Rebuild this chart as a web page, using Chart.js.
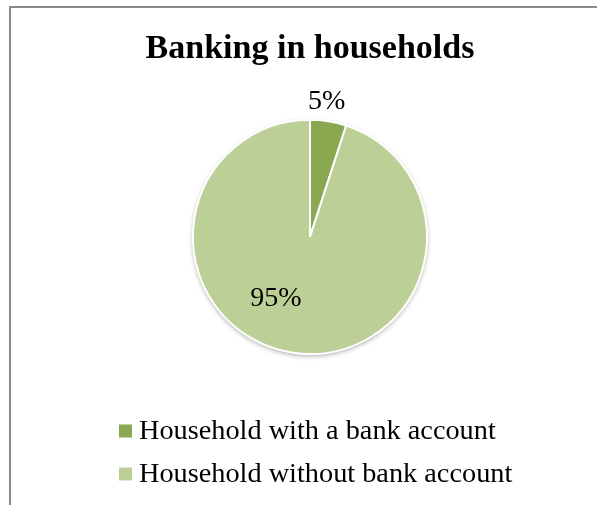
<!DOCTYPE html>
<html>
<head>
<meta charset="utf-8">
<script src="https://cdn.jsdelivr.net/npm/chart.js@4.4.0/dist/chart.umd.min.js"></script>
<style>
  html, body { margin: 0; padding: 0; background: #fff; overflow: hidden; }
  #wrap { position: relative; width: 597px; height: 505px; }
  #frame { position: absolute; left: 9px; top: 6px; width: 700px; height: 600px;
           border-left: 2px solid #8a8a8a; border-top: 2px solid #8a8a8a; }
  #pieChart { position: absolute; left: 0; top: 0; }
</style>
</head>
<body>
<div id="wrap">
  <div id="frame"></div>
  <canvas id="pieChart" width="597" height="505"></canvas>
</div>
<script>
const chartTitle = 'Banking in households';
const categories = ['Household with a bank account', 'Household without bank account'];
const shares = [5, 95];
const sliceColors = ['#8aa84f', '#bbcf97'];

const serif = "'Liberation Serif', 'Times New Roman', serif";

// label placement tweaks (angle shift in degrees, radius factor)
const labelPlace = [
  { shift: -2, rf: 1.16 },
  { shift: 20, rf: 0.6 }
];

const pieShadow = {
  id: 'pieShadow',
  beforeDatasetsDraw(chart) {
    const arc = chart.getDatasetMeta(0).data[0];
    if (!arc) return;
    const { x, y, outerRadius } = arc.getProps(['x', 'y', 'outerRadius'], true);
    const ctx = chart.ctx;
    ctx.save();
    ctx.beginPath();
    ctx.arc(x, y, outerRadius, 0, Math.PI * 2);
    ctx.fillStyle = '#fff';
    ctx.shadowColor = 'rgba(0,0,0,0.35)';
    ctx.shadowBlur = 5;
    ctx.shadowOffsetY = 2;
    ctx.fill();
    ctx.restore();
  }
};

const pctLabels = {
  id: 'pctLabels',
  afterDatasetsDraw(chart) {
    const ctx = chart.ctx;
    const total = shares.reduce((a, b) => a + b, 0);
    ctx.save();
    ctx.font = '28px ' + serif;
    ctx.fillStyle = '#000';
    ctx.textAlign = 'center';
    ctx.textBaseline = 'middle';
    chart.getDatasetMeta(0).data.forEach((arc, i) => {
      const p = arc.getProps(['x', 'y', 'startAngle', 'endAngle', 'outerRadius'], true);
      const a = (p.startAngle + p.endAngle) / 2 + labelPlace[i].shift * Math.PI / 180;
      const r = p.outerRadius * labelPlace[i].rf;
      const txt = Math.round(shares[i] / total * 100) + '%';
      ctx.fillText(txt, p.x + Math.cos(a) * r, p.y + Math.sin(a) * r);
    });
    ctx.restore();
  }
};

const sideLegend = {
  id: 'sideLegend',
  afterDraw(chart) {
    const ctx = chart.ctx;
    const left = 119, top = 431, step = 43, box = 13;
    ctx.save();
    ctx.font = '28.3px ' + serif;
    ctx.textBaseline = 'middle';
    ctx.textAlign = 'left';
    categories.forEach((name, i) => {
      const cy = top + i * step;
      ctx.fillStyle = sliceColors[i];
      ctx.fillRect(left, cy - box / 2, box, box);
      ctx.fillStyle = '#000';
      ctx.fillText(name, left + box + 7, cy + 1);
    });
    ctx.restore();
  }
};

new Chart(document.getElementById('pieChart'), {
  type: 'pie',
  data: {
    labels: categories,
    datasets: [{
      data: shares,
      backgroundColor: sliceColors,
      borderColor: '#ffffff',
      borderWidth: 2
    }]
  },
  options: {
    responsive: false,
    animation: false,
    layout: { padding: { left: 23, right: 0, top: 0, bottom: 150 } },
    plugins: {
      legend: { display: false },
      tooltip: { enabled: false },
      title: {
        display: true,
        text: chartTitle,
        color: '#000',
        font: { family: serif, size: 34, weight: 'bold' },
        padding: { top: 29, bottom: 49 }
      }
    }
  },
  plugins: [pieShadow, pctLabels, sideLegend]
});
</script>
</body>
</html>
